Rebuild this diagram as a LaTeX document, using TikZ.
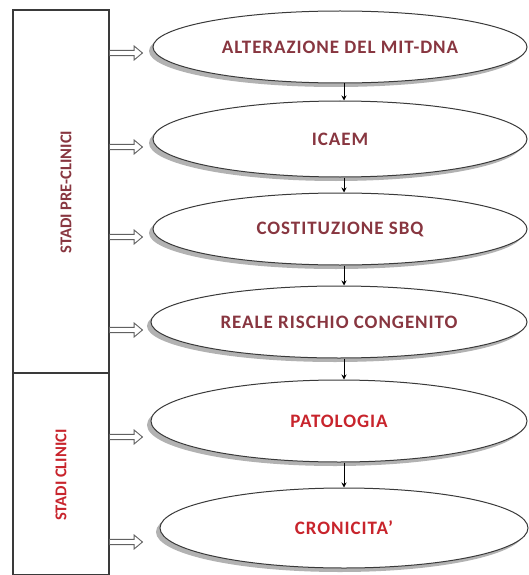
\documentclass[tikz,border=0pt]{standalone}
\usepackage{fontspec}
\setmainfont{Carlito}
\newfontfamily\ovalfont[LetterSpace=5]{Carlito}
\usetikzlibrary{shapes.geometric,shapes.arrows,shadows,arrows.meta}
\definecolor{maroon}{HTML}{883640}
\definecolor{brightred}{HTML}{C8242C}
\definecolor{edge}{HTML}{3A3A3A}
\tikzset{
  stagebox/.style={draw=edge, line width=1.1pt, fill=white},
  oval/.style={ellipse, draw=edge, line width=1pt, fill=white, inner sep=0pt,
    font=\ovalfont\fontsize{19}{22}\selectfont\bfseries,
    drop shadow={shadow xshift=-4pt, shadow yshift=-4pt, fill=black!30, opacity=1}},
  hollow/.style={single arrow, draw=edge!80, line width=0.9pt, fill=white,
    minimum width=14pt, single arrow head extend=4pt, minimum height=33pt,
    inner sep=2pt, anchor=west, single arrow tip angle=80},
  flow/.style={draw=black, line width=0.8pt, -{Stealth[length=5pt,width=5pt]}},
  vlabel/.style={rotate=90, font=\fontsize{16.5}{19}\selectfont\bfseries}
}
\begin{document}
\begin{tikzpicture}[x=1pt,y=-1pt]
\useasboundingbox (0,0) rectangle (528,575);
% left boxes
\draw[stagebox] (13,10) rectangle (109,373);
\draw[stagebox] (13,373) rectangle (109,575);
\coordinate (preE) at (109,10);
\node[vlabel, text=maroon] (pre) at (66,192) {STADI PRE-CLINICI};
\node[vlabel, text=brightred] (clin) at (61,475) {STADI CLINICI};
% ellipses
\node[oval, minimum width=374pt, minimum height=72pt, text=maroon] (e1) at (340,47) {ALTERAZIONE DEL MIT-DNA};
\node[oval, minimum width=374pt, minimum height=76pt, text=maroon] (e2) at (340,139) {ICAEM};
\node[oval, minimum width=374pt, minimum height=72pt, text=maroon] (e3) at (340,229) {COSTITUZIONE SBQ};
\node[oval, minimum width=376pt, minimum height=72pt, text=maroon] (e4) at (339,322) {REALE RISCHIO CONGENITO};
\node[oval, minimum width=376pt, minimum height=82pt, text=brightred] (e5) at (339,421) {PATOLOGIA};
\node[oval, minimum width=368pt, minimum height=80pt, text=brightred] (e6) at (344,528) {CRONICITA’};
% vertical connectors
\coordinate (ax) at (344,0);
\draw[flow] (e1.south -| ax) -- (e2.north -| ax);
\draw[flow] (e2.south -| ax) -- (e3.north -| ax);
\draw[flow] (e3.south -| ax) -- (e4.north -| ax);
\draw[flow] (e4.south -| ax) -- (e5.north -| ax);
\draw[flow] (e5.south -| ax) -- (e6.north -| ax);
% hollow arrows
\node[hollow] (h1) at ([yshift=-6pt]e1.center -| preE) {};
\node[hollow] (h2) at ([yshift=-8pt]e2.center -| preE) {};
\node[hollow] (h3) at ([yshift=-8pt]e3.center -| preE) {};
\node[hollow] (h4) at ([yshift=-8pt]e4.center -| preE) {};
\node[hollow] (h5) at ([yshift=-16pt]e5.center -| preE) {};
\node[hollow] (h6) at ([yshift=-14pt]e6.center -| preE) {};
\end{tikzpicture}
\end{document}
